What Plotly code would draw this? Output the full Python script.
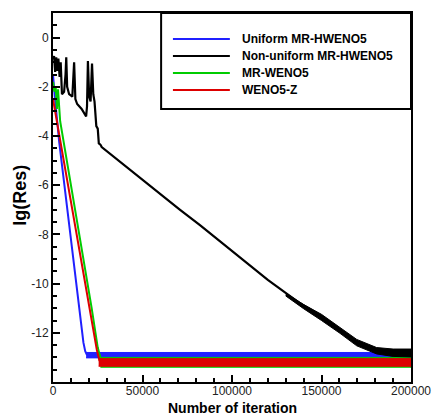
import plotly.graph_objects as go

# ---------------- data ----------------
uni_x = [0, 1000, 3500, 14500, 17000, 18000, 19000]
uni_y = [-1.5, -2.4, -4.27, -11.0, -12.4, -12.75, -12.9]
uni_band_x = [18500, 60000, 110000, 160000, 200000]
uni_band_hi = [-12.8, -12.8, -12.78, -12.8, -12.8]
uni_band_lo = [-13.02, -13.02, -13.02, -13.02, -13.02]

non_x = [0, 600, 1200, 1800, 2400, 3000, 3700, 4300, 5000, 6200, 7000, 7400, 7900,
         9000, 10800, 11800, 12500, 13500, 16000, 18500, 19000, 19500, 20200, 21000,
         21800, 22500, 23200, 24200, 25000, 25600, 26500, 27200, 71000, 82100,
         120000, 138000, 147300, 160300, 169700, 180800, 190000, 200000]
non_y = [-0.9, -0.75, -1.4, -0.8, -1.35, -0.85, -1.6, -1.0, -2.3, -2.2, -1.5, -0.8, -2.0,
         -2.3, -2.4, -1.0, -2.5, -2.7, -2.9, -3.2, -2.8, -0.95, -2.4, -2.6,
         -1.05, -2.3, -2.6, -3.6, -3.7, -4.3, -4.35, -4.45, -7.0, -7.62,
         -9.85, -10.8, -11.2, -11.9, -12.4, -12.72, -12.8, -12.82]
non_band_x = [130000, 140000, 150000, 160300, 169700, 180800, 190000, 200000]
non_band_hi = [-10.38, -10.85, -11.25, -11.78, -12.27, -12.6, -12.66, -12.66]
non_band_lo = [-10.5, -11.02, -11.5, -12.02, -12.53, -12.86, -12.96, -12.98]

mrw_x = [0, 800, 1500, 2200, 2800, 3400, 4000, 21600, 25000, 27000]
mrw_y = [-1.8, -2.2, -2.0, -2.9, -2.1, -3.0, -3.4, -11.0, -12.6, -13.15]
mrw_band_x = [26500, 80000, 140000, 200000]
mrw_band_hi = [-13.0, -13.0, -13.0, -13.0]
mrw_band_lo = [-13.4, -13.4, -13.4, -13.4]

wz_x = [0, 2960, 20670, 24500, 26000]
wz_y = [-2.5, -3.74, -11.0, -12.7, -13.15]
wz_band_x = [25500, 80000, 140000, 200000]
wz_band_hi = [-13.05, -13.05, -13.05, -13.05]
wz_band_lo = [-13.36, -13.36, -13.36, -13.36]

names = ["Uniform MR-HWENO5", "Non-uniform MR-HWENO5", "MR-WENO5", "WENO5-Z"]
colors = ["#2020ff", "#000000", "#00cc00", "#dd0000"]

x_ticks = [0, 50000, 100000, 150000, 200000]
y_ticks = [0, -2, -4, -6, -8, -10, -12]

FONT = "Liberation Sans, Arial"

fig = go.Figure()


def band(xs, hi, lo, color):
    fig.add_trace(go.Scatter(x=xs + xs[::-1], y=hi + lo[::-1], fill="toself",
                             fillcolor=color, line=dict(color=color, width=1),
                             mode="lines", hoverinfo="skip", showlegend=False))


band(uni_band_x, uni_band_hi, uni_band_lo, colors[0])
fig.add_trace(go.Scatter(x=uni_x, y=uni_y, mode="lines", line=dict(color=colors[0], width=2),
                         showlegend=False))
band(mrw_band_x, mrw_band_hi, mrw_band_lo, colors[2])
fig.add_trace(go.Scatter(x=mrw_x, y=mrw_y, mode="lines", line=dict(color=colors[2], width=2),
                         showlegend=False))
band(wz_band_x, wz_band_hi, wz_band_lo, colors[3])
fig.add_trace(go.Scatter(x=wz_x, y=wz_y, mode="lines", line=dict(color=colors[3], width=2),
                         showlegend=False))
band(non_band_x, non_band_hi, non_band_lo, colors[1])
fig.add_trace(go.Scatter(x=non_x, y=non_y, mode="lines", line=dict(color=colors[1], width=2.2),
                         showlegend=False))

# ---------------- legend (drawn in paper coords) ----------------
shapes = [dict(type="rect", xref="paper", yref="paper", x0=0.302, x1=1.0, y0=0.74, y1=1.0,
               line=dict(color="black", width=2), fillcolor="white", layer="above")]
annotations = []
leg_y = [0.9295, 0.8835, 0.8374, 0.7913]
for i, nm in enumerate(names):
    shapes.append(dict(type="line", xref="paper", yref="paper", x0=0.335, x1=0.494,
                       y0=leg_y[i], y1=leg_y[i], line=dict(color=colors[i], width=2),
                       layer="above"))
    annotations.append(dict(xref="paper", yref="paper", x=0.522, y=leg_y[i], text=nm,
                            showarrow=False, xanchor="left", yanchor="middle",
                            font=dict(family=FONT, size=12, color="black", weight="bold")))

# axis titles
annotations.append(dict(xref="paper", yref="paper", x=0.5, y=-0.071, text="Number of iteration",
                        showarrow=False, xanchor="center", yanchor="middle",
                        font=dict(family=FONT, size=14, color="black", weight="bold")))
annotations.append(dict(xref="paper", yref="paper", x=-0.092, y=0.505, text="lg(Res)",
                        showarrow=False, xanchor="center", yanchor="middle", textangle=-90,
                        font=dict(family=FONT, size=18, color="black", weight="bold")))

axis_common = dict(showline=True, linecolor="black", linewidth=2, mirror=True,
                   ticks="inside", tickcolor="black", tickwidth=1.5, ticklen=7,
                   showgrid=False, zeroline=False, automargin=False,
                   tickfont=dict(family=FONT, size=12, color="#222"))

fig.update_layout(
    width=433, height=417,
    margin=dict(l=53, r=22, t=13, b=35),
    plot_bgcolor="white", paper_bgcolor="white",
    showlegend=False,
    shapes=shapes, annotations=annotations,
    xaxis=dict(range=[0, 200000], tickvals=x_ticks, ticktext=[str(v) for v in x_ticks],
               minor=dict(dtick=10000, ticks="inside", ticklen=4, tickcolor="black"),
               ticklabelstandoff=-3,
               **axis_common),
    yaxis=dict(range=[-14, 1], tickvals=y_ticks, ticktext=[str(v) for v in y_ticks],
               minor=dict(dtick=0.5, tick0=0, ticks="inside", ticklen=4, tickcolor="black"),
               **axis_common),
)

# remove the default 8px page margin so the figure fills the window exactly
fig.write_html("out.html", config={"displayModeBar": False},
               post_script="document.body.style.margin='0';")
